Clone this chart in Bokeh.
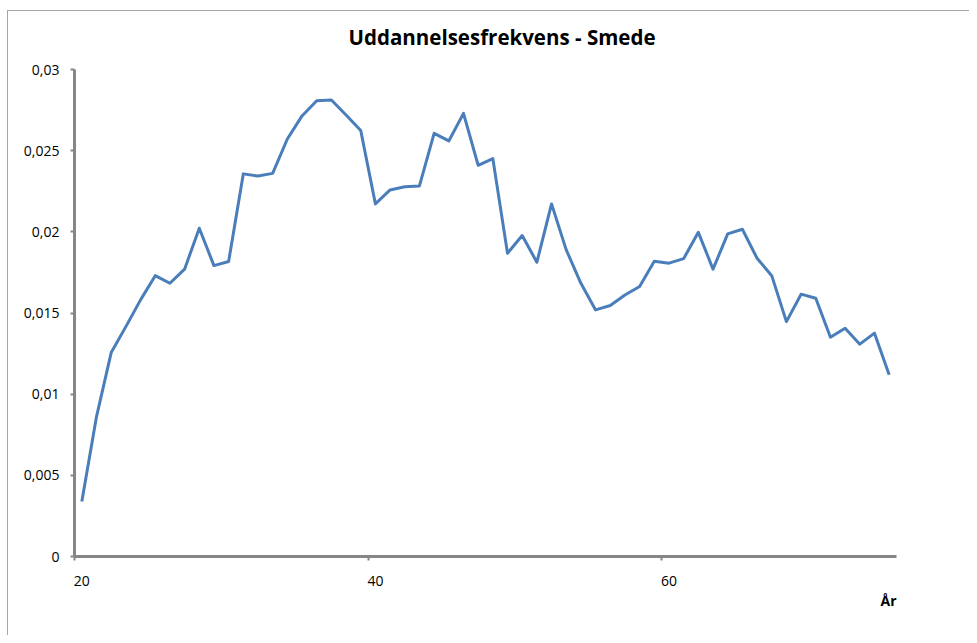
from bokeh.plotting import figure
from bokeh.models import FixedTicker, CustomJSTickFormatter, Range1d, Title
from bokeh.embed import file_html
from bokeh.resources import INLINE

ages = list(range(20, 76))
frekvens = [
    0.00339, 0.00862, 0.01256, 0.01416, 0.01581, 0.01730, 0.01683, 0.01770,
    0.02022, 0.01792, 0.01817, 0.02357, 0.02344, 0.02360, 0.02572, 0.02714,
    0.02808, 0.02812, 0.02720, 0.02624, 0.02172, 0.02258, 0.02278, 0.02283,
    0.02607, 0.02560, 0.02730, 0.02410, 0.02451, 0.01868, 0.01977, 0.01813,
    0.02172, 0.01889, 0.01683, 0.01519, 0.01546, 0.01611, 0.01663, 0.01819,
    0.01807, 0.01835, 0.01997, 0.01770, 0.01987, 0.02016, 0.01837, 0.01730,
    0.01447, 0.01616, 0.01591, 0.01351, 0.01406, 0.01308, 0.01376, 0.01119,
]
x_ticks = [20, 40, 60]
y_ticks = [0, 0.005, 0.01, 0.015, 0.02, 0.025, 0.03]
title_text = "Uddannelsesfrekvens - Smede"
x_title = "År"

AXIS = "#868686"
LINE = "#4A7EBB"
FONT = "Open Sans"
EDGE = "#a6a6a6"

p = figure(width=969, height=635, output_backend="svg", toolbar_location=None,
           x_range=Range1d(ages[0] - 0.5, ages[-1] + 0.5),
           y_range=Range1d(y_ticks[0], y_ticks[-1]),
           min_border_left=74, min_border_right=73,
           min_border_top=69, min_border_bottom=79)
p.styles = {
    "background-color": "white",
    "background-image": f"linear-gradient({EDGE},{EDGE}), linear-gradient({EDGE},{EDGE})",
    "background-position": "7px 10px, 7px 10px",
    "background-size": "1px 100%, 100% 1px",
    "background-repeat": "no-repeat",
}
p.grid.visible = False
p.outline_line_color = None
p.background_fill_color = "white"
p.border_fill_color = None

p.title.text = title_text
p.title.align = "left"
p.title.offset = 274
p.title.standoff = 37
p.title.text_font = FONT
p.title.text_font_style = "bold"
p.title.text_font_size = "20.5px"
p.title.text_color = "black"

p.line(ages, frekvens, line_color=LINE, line_width=3, line_join="round")

xa = p.xaxis[0]
xa.ticker = FixedTicker(ticks=x_ticks, minor_ticks=[t - 0.5 for t in x_ticks])
xa.axis_line_color = AXIS
xa.axis_line_width = 3
xa.major_tick_in = 0
xa.major_tick_out = 0
xa.minor_tick_in = 0
xa.minor_tick_out = 4
xa.minor_tick_line_color = AXIS
xa.minor_tick_line_width = 2
xa.major_label_standoff = 15
xa.major_label_text_font = FONT
xa.major_label_text_font_size = "14px"
xa.major_label_text_color = "black"

p.add_layout(Title(text=x_title, align="right", standoff=0,
                   text_font=FONT, text_font_style="bold",
                   text_font_size="14px", text_color="black"), "below")

ya = p.yaxis[0]
ya.ticker = FixedTicker(ticks=y_ticks)
ya.axis_line_color = AXIS
ya.axis_line_width = 3
ya.major_tick_in = 0
ya.major_tick_out = 4
ya.major_tick_line_color = AXIS
ya.major_tick_line_width = 2
ya.minor_tick_line_color = None
ya.major_label_standoff = 11
ya.major_label_text_font = FONT
ya.major_label_text_font_size = "14px"
ya.major_label_text_color = "black"
ya.formatter = CustomJSTickFormatter(code="""
    if (tick == 0) return "0";
    let s = tick.toFixed(3).replace(/0+$/, "").replace(/\\.$/, "");
    return s.replace(".", ",");
""")

open("out.html", "w").write(file_html(p, INLINE))
